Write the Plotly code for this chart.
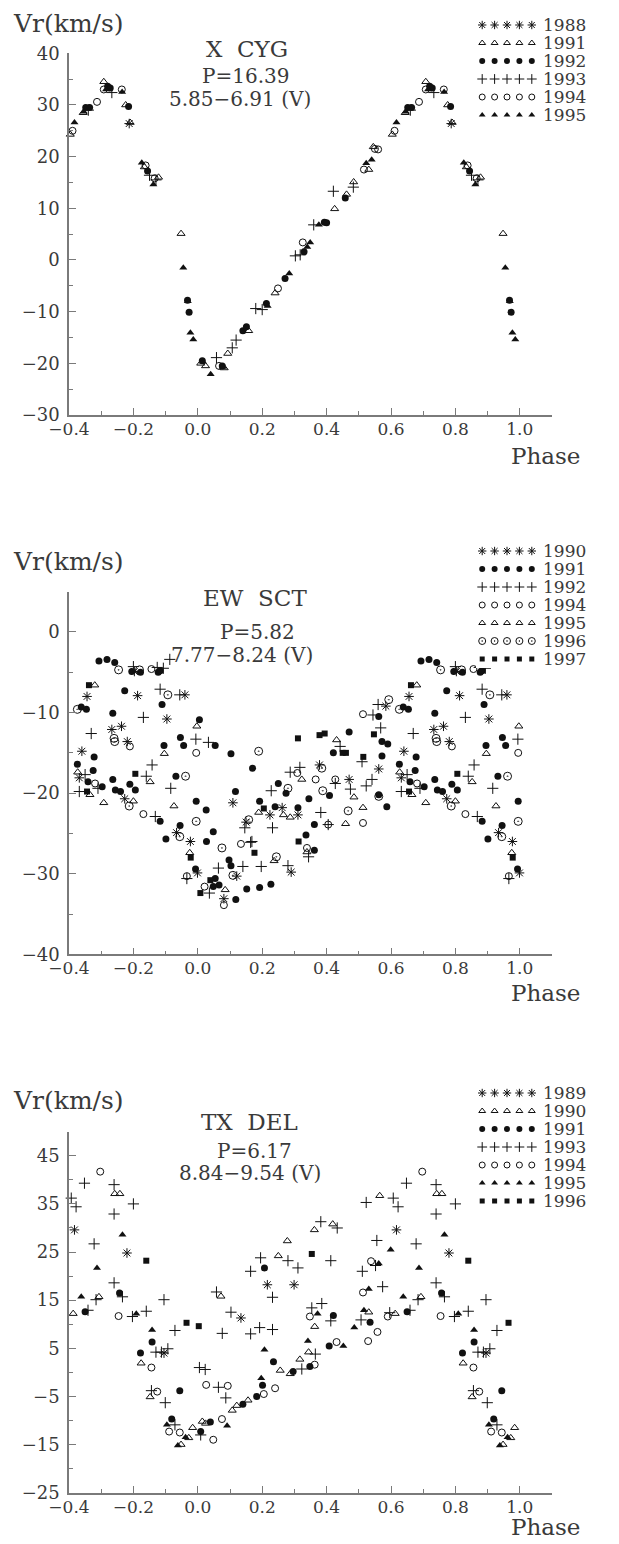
import plotly.graph_objects as go

# ---------------- DATA (phase in [0,1), radial velocity km/s) ----------------
# X CYG
XCYG_YEARS = ["1988", "1991", "1992", "1993", "1994", "1995"]
XCYG_1988_PH = [0.787]
XCYG_1988_VR = [26.4]
XCYG_1991_PH = [0.604, 0.644, 0.708, 0.776, 0.790, 0.834, 0.878, 0.948, 0.009, 0.024, 0.082, 0.093,
                0.158, 0.240, 0.425, 0.462, 0.484, 0.531, 0.545]
XCYG_1991_VR = [24.3, 28.5, 34.5, 30.0, 26.6, 18.0, 16.0, 5.1, -20.0, -20.5, -20.9, -18.1,
                -13.7, -6.4, 9.9, 12.7, 15.1, 17.5, 21.9]
XCYG_1992_PH = [0.652, 0.664, 0.720, 0.728, 0.785, 0.844, 0.968, 0.973, 0.014, 0.076, 0.140, 0.151,
                0.213, 0.271, 0.330, 0.393, 0.400, 0.458]
XCYG_1992_VR = [29.5, 29.5, 33.6, 33.3, 29.7, 17.2, -7.8, -10.1, -19.5, -20.5, -13.7, -12.9,
                -8.4, -3.6, 1.6, 7.3, 7.2, 12.0]
XCYG_1993_PH = [0.660, 0.733, 0.850, 0.870, 0.058, 0.107, 0.119, 0.180, 0.200, 0.303, 0.318, 0.360,
                0.421, 0.483]
XCYG_1993_VR = [29.0, 32.4, 16.4, 15.5, -18.9, -17.0, -15.5, -9.4, -9.6, 0.8, 1.0, 6.8, 13.3, 14.1]
XCYG_1994_PH = [0.611, 0.687, 0.708, 0.764, 0.838, 0.866, 0.066, 0.249, 0.326, 0.516, 0.550, 0.560]
XCYG_1994_VR = [25.0, 30.6, 33.0, 33.0, 18.3, 15.8, -20.5, -5.5, 3.4, 17.5, 21.5, 21.4]
XCYG_1995_PH = [0.617, 0.646, 0.715, 0.765, 0.826, 0.862, 0.955, 0.969, 0.977, 0.986, 0.016, 0.040,
                0.078, 0.217, 0.284, 0.340, 0.349, 0.376, 0.523, 0.540]
XCYG_1995_VR = [26.6, 28.7, 33.0, 32.5, 18.8, 14.6, -1.5, -8.0, -14.1, -15.4, -19.7, -22.1,
                -20.7, -8.9, -2.6, 2.5, 3.4, 6.8, 18.7, 19.4]

# EW SCT
EWSCT_YEARS = ["1990", "1991", "1992", "1994", "1995", "1996", "1997"]
EWSCT_1990_PH = [0.656, 0.640, 0.632, 0.733, 0.763, 0.781, 0.813, 0.773, 0.960, 0.904, 0.934, 0.977,
                 0.999, 0.803, 0.081, 0.121, 0.290, 0.109, 0.150, 0.224, 0.262, 0.311, 0.378, 0.470,
                 0.562, 0.584]
EWSCT_1990_VR = [-8.0, -14.8, -18.1, -12.1, -11.7, -13.6, -7.9, -20.7, -7.8, -10.8, -24.9, -26.0,
                 -29.9, -4.9, -33.1, -30.3, -29.8, -21.2, -23.6, -22.7, -21.8, -22.7, -16.5, -18.3,
                 -17.0, -9.2]
EWSCT_1991_PH = [0.638, 0.654, 0.626, 0.678, 0.675, 0.659, 0.703, 0.736, 0.736, 0.744, 0.760, 0.773,
                 0.789, 0.806, 0.883, 0.889, 0.895, 0.932, 0.901, 0.945, 0.946, 0.956, 0.005, 0.995,
                 0.026, 0.027, 0.054, 0.048, 0.103, 0.117, 0.170, 0.192, 0.240, 0.250, 0.274, 0.311,
                 0.345, 0.362, 0.336, 0.409, 0.421, 0.470, 0.562, 0.572, 0.590, 0.572, 0.562, 0.587,
                 0.993, 0.054, 0.048, 0.066, 0.097, 0.103, 0.118, 0.152, 0.192, 0.227, 0.362,
                 0.693, 0.718, 0.742, 0.795, 0.822, 0.877, 0.883]
EWSCT_1991_VR = [-9.3, -9.6, -16.4, -15.5, -17.2, -18.6, -19.2, -10.1, -18.3, -19.6, -19.8, -7.3,
                 -18.9, -19.6, -23.5, -9.0, -14.1, -17.9, -25.7, -24.0, -13.1, -14.1, -10.9, -21.0,
                 -22.1, -26.0, -14.1, -24.8, -15.1, -19.8, -16.9, -21.0, -21.7, -18.8, -20.0, -21.8,
                 -20.7, -23.9, -25.2, -20.3, -15.0, -12.4, -10.5, -13.6, -13.9, -15.4, -20.2, -21.7,
                 -29.4, -30.6, -31.6, -31.4, -28.3, -29.0, -33.2, -31.9, -31.7, -31.3, -27.1,
                 -3.6, -3.4, -3.8, -4.9, -5.0, -5.0, -4.8]
EWSCT_1992_PH = [0.650, 0.632, 0.690, 0.669, 0.831, 0.858, 0.840, 0.868, 0.883, 0.944, 0.916, 0.994,
                 0.033, 0.168, 0.146, 0.232, 0.228, 0.287, 0.317, 0.382, 0.405, 0.427, 0.442, 0.474,
                 0.541, 0.523, 0.510, 0.544, 0.568, 0.560, 0.966, 0.036, 0.064, 0.140, 0.164, 0.197,
                 0.280, 0.344, 0.800, 0.874, 0.893, 0.913]
EWSCT_1992_VR = [-17.7, -19.8, -19.4, -12.6, -10.6, -16.5, -17.9, -22.9, -7.1, -7.8, -19.4, -13.3,
                 -13.7, -26.0, -24.3, -24.3, -19.7, -17.4, -16.8, -22.4, -23.9, -18.8, -14.2, -19.5,
                 -18.3, -19.1, -16.1, -10.3, -11.9, -9.0, -30.6, -32.4, -29.3, -29.1, -26.1, -29.1,
                 -29.0, -27.9, -4.3, -4.4, -4.5, -3.4]
EWSCT_1994_PH = [0.681, 0.789, 0.831, 0.995, 0.134, 0.309, 0.366, 0.427, 0.513, 0.513, 0.966, 0.021,
                 0.081, 0.339, 0.856, 0.405]
EWSCT_1994_VR = [-18.8, -14.2, -22.6, -15.0, -26.3, -17.5, -18.3, -18.3, -23.7, -10.2, -30.3, -31.6,
                 -33.9, -26.8, -4.6, -23.9]
EWSCT_1995_PH = [0.680, 0.627, 0.665, 0.708, 0.800, 0.852, 0.926, 0.896, 0.997, 0.189, 0.266, 0.287,
                 0.323, 0.431, 0.459, 0.485, 0.513, 0.975, 0.085, 0.237, 0.339]
EWSCT_1995_VR = [-6.6, -17.4, -20.2, -21.2, -21.0, -18.6, -21.6, -15.1, -11.7, -22.4, -22.7, -23.0,
                 -18.3, -13.4, -23.8, -20.5, -21.8, -27.4, -32.0, -28.4, -27.3]
EWSCT_1996_PH = [0.626, 0.740, 0.742, 0.787, 0.907, 0.962, 0.944, 0.995, 0.075, 0.189, 0.158, 0.280,
                 0.388, 0.385, 0.467, 0.562, 0.593, 0.109, 0.244, 0.754, 0.819]
EWSCT_1996_VR = [-9.6, -13.2, -13.6, -21.6, -7.8, -17.9, -25.4, -23.5, -26.8, -14.8, -23.3, -19.4,
                 -19.7, -16.9, -22.2, -20.4, -8.4, -30.2, -27.9, -4.7, -4.7]
EWSCT_1997_PH = [0.662, 0.656, 0.806, 0.205, 0.311, 0.378, 0.394, 0.450, 0.460, 0.514, 0.547, 0.978,
                 0.008, 0.039, 0.176, 0.313]
EWSCT_1997_VR = [-6.6, -19.8, -17.6, -21.9, -13.2, -12.8, -12.6, -15.0, -15.0, -15.5, -12.7, -28.0,
                 -32.4, -30.8, -27.4, -26.0]

# TX DEL
TXDEL_YEARS = ["1989", "1990", "1991", "1993", "1994", "1995", "1996"]
TXDEL_1989_PH = [0.617, 0.780, 0.134, 0.216, 0.299, 0.895]
TXDEL_1989_VR = [29.6, 24.8, 11.3, 18.2, 18.2, 4.0]
TXDEL_1990_PH = [0.742, 0.758, 0.565, 0.613, 0.693, 0.824, 0.072, 0.250, 0.278, 0.362, 0.419, 0.363,
                 0.344, 0.317, 0.256, 0.287, 0.531, 0.852, 0.107, 0.121, 0.156, 0.948, 0.972, 0.984,
                 0.014, 0.024]
TXDEL_1990_VR = [37.1, 37.1, 36.7, 12.2, 15.7, 1.9, 15.8, 24.2, 27.3, 29.6, 30.8, 9.5,
                 4.2, 2.7, 0.4, -0.3, 12.5, -5.1, -7.9, -6.9, -5.8, -15.0, -13.6, -11.5,
                 -10.2, -10.6]
TXDEL_1991_PH = [0.650, 0.757, 0.858, 0.822, 0.207, 0.421, 0.408, 0.235, 0.348, 0.535, 0.944, 0.140,
                 0.183, 0.201, 0.296, 0.919, 0.039, 0.009]
TXDEL_1991_VR = [12.6, 16.5, 6.3, 4.0, 21.7, 11.8, 5.5, 2.2, 1.2, 10.4, -3.8, -6.6,
                 -5.0, -2.7, 0.2, -9.7, -10.3, -12.3]
TXDEL_1993_PH = [0.607, 0.622, 0.648, 0.740, 0.800, 0.523, 0.740, 0.678, 0.740, 0.766, 0.684, 0.659,
                 0.797, 0.840, 0.895, 0.929, 0.870, 0.887, 0.907, 0.005, 0.023, 0.058, 0.103, 0.076,
                 0.164, 0.195, 0.232, 0.192, 0.232, 0.164, 0.280, 0.311, 0.382, 0.433, 0.413, 0.354,
                 0.385, 0.413, 0.365, 0.323, 0.556, 0.511, 0.552, 0.574, 0.596, 0.507, 0.856, 0.899,
                 0.929, 0.064, 0.087, 0.009]
TXDEL_1993_VR = [36.2, 34.4, 39.3, 39.0, 35.0, 35.3, 32.9, 26.7, 18.6, 15.7, 15.1, 12.9,
                 11.6, 12.7, 15.1, 8.7, 4.2, 4.2, 4.9, 1.0, 0.6, 16.7, 12.5, 8.1,
                 21.0, 23.8, 15.6, 9.3, 8.9, 8.0, 23.2, 21.7, 31.3, 30.0, 23.2, 13.4,
                 14.3, 10.7, 3.8, 0.7, 27.4, 21.0, 22.2, 17.8, 12.4, 10.9, -3.8, -6.3,
                 -10.9, -3.1, -5.3, -13.0]
TXDEL_1994_PH = [0.697, 0.754, 0.856, 0.348, 0.431, 0.363, 0.538, 0.513, 0.590, 0.529, 0.558, 0.874,
                 0.911, 0.944, 0.026, 0.093, 0.205, 0.240, 0.048, 0.075]
TXDEL_1994_VR = [41.7, 11.7, 1.0, 11.6, 6.3, 1.6, 23.1, 16.6, 11.6, 6.5, 8.4, -4.0,
                 -12.3, -12.5, -2.6, -2.8, -4.5, -3.3, -14.0, -9.7]
TXDEL_1995_PH = [0.766, 0.687, 0.638, 0.809, 0.858, 0.207, 0.342, 0.372, 0.452, 0.599, 0.562, 0.531,
                 0.516, 0.486, 0.197, 0.904, 0.962, 0.938, 0.091]
TXDEL_1995_VR = [28.6, 21.7, 15.7, 12.2, 8.8, 4.7, 6.5, 12.2, 5.5, 25.5, 22.6, 17.3,
                 12.9, 9.3, -1.2, -10.9, -13.5, -15.2, -11.1]
TXDEL_1996_PH = [0.840, 0.965, 0.003, 0.354]
TXDEL_1996_VR = [23.2, 10.3, 9.6, 24.6]

# ---------------- STYLE ----------------
INK = "#111111"
AX = "#7a7a7a"
TXT = "#3a3a3a"
FONT = "DejaVu Serif"
W, H = 619, 1544

SYM = {
    "star": dict(symbol="asterisk-open", size=8, line=dict(width=1, color=INK), color=INK),
    "tri_open": dict(symbol="triangle-up-open", size=7, line=dict(width=1, color=INK), color=INK),
    "dot": dict(symbol="circle", size=7, line=dict(width=0), color=INK),
    "plus": dict(symbol="cross-thin-open", size=8, line=dict(width=1, color=INK), color=INK),
    "circ_open": dict(symbol="circle-open", size=7, line=dict(width=1, color=INK), color=INK),
    "tri": dict(symbol="triangle-up", size=7, line=dict(width=0), color=INK),
    "dotcirc": dict(symbol="circle-open-dot", size=8, line=dict(width=1, color=INK), color=INK),
    "square": dict(symbol="square", size=6, line=dict(width=0), color=INK),
}


def fold(ph, vr):
    """Phase-folded display: points with phase >= 0.6 are repeated at phase-1."""
    xs, ys = list(ph), list(vr)
    for p, v in zip(ph, vr):
        if p >= 0.6:
            xs.append(p - 1.0)
            ys.append(v)
    return xs, ys


panels = [
    dict(years=XCYG_YEARS,
         series=[(XCYG_1988_PH, XCYG_1988_VR, "star"), (XCYG_1991_PH, XCYG_1991_VR, "tri_open"),
                 (XCYG_1992_PH, XCYG_1992_VR, "dot"), (XCYG_1993_PH, XCYG_1993_VR, "plus"),
                 (XCYG_1994_PH, XCYG_1994_VR, "circ_open"), (XCYG_1995_PH, XCYG_1995_VR, "tri")],
         yr=[-30, 40], tick0=-30, top=53.3, bot=415.0, leg_top=25,
         title=["X  CYG", "P=16.39", "5.85\u22126.91 (V)"], ty=[49, 76, 99], tx=[247, 245, 240],
         vr_y=23, ph_y=456),
    dict(years=EWSCT_YEARS,
         series=[(EWSCT_1990_PH, EWSCT_1990_VR, "star"), (EWSCT_1991_PH, EWSCT_1991_VR, "dot"),
                 (EWSCT_1992_PH, EWSCT_1992_VR, "plus"), (EWSCT_1994_PH, EWSCT_1994_VR, "circ_open"),
                 (EWSCT_1995_PH, EWSCT_1995_VR, "tri_open"), (EWSCT_1996_PH, EWSCT_1996_VR, "dotcirc"),
                 (EWSCT_1997_PH, EWSCT_1997_VR, "square")],
         yr=[-40, 5], tick0=0, top=591.7, bot=954.3, leg_top=551,
         title=["EW  SCT", "P=5.82", "7.77\u22128.24 (V)"], ty=[598, 632, 655], tx=[255, 257, 242],
         vr_y=562, ph_y=993),
    dict(years=TXDEL_YEARS,
         series=[(TXDEL_1989_PH, TXDEL_1989_VR, "star"), (TXDEL_1990_PH, TXDEL_1990_VR, "tri_open"),
                 (TXDEL_1991_PH, TXDEL_1991_VR, "dot"), (TXDEL_1993_PH, TXDEL_1993_VR, "plus"),
                 (TXDEL_1994_PH, TXDEL_1994_VR, "circ_open"), (TXDEL_1995_PH, TXDEL_1995_VR, "tri"),
                 (TXDEL_1996_PH, TXDEL_1996_VR, "square")],
         yr=[-25, 50], tick0=-25, top=1131.7, bot=1492.7, leg_top=1093,
         title=["TX  DEL", "P=6.17", "8.84\u22129.54 (V)"], ty=[1122, 1151, 1173], tx=[250, 254, 250],
         vr_y=1100, ph_y=1527),
]

X0, X1 = 69.0, 552.0
LEG_X0, LEG_X1 = 476.0, 538.0
ROW = 18.0

fig = go.Figure()
layout = dict(width=W, height=H, margin=dict(l=0, r=0, t=0, b=0, pad=0),
              paper_bgcolor="white", plot_bgcolor="white", showlegend=False,
              font=dict(family=FONT, color=TXT))
annotations = []


def py(v):
    return 1.0 - v / H


for i, P in enumerate(panels):
    n = i + 1
    xa, ya = ("x" if n == 1 else f"x{n}"), ("y" if n == 1 else f"y{n}")
    ln = n + 3
    lxa, lya = f"x{ln}", f"y{ln}"

    for ph, vr, sym in P["series"]:
        xs, ys = fold(ph, vr)
        fig.add_trace(go.Scatter(x=xs, y=ys, mode="markers", marker=SYM[sym],
                                 xaxis=xa, yaxis=ya, cliponaxis=False, hoverinfo="skip"))
    # legend block: five symbols per year
    for (ph, vr, sym), year in zip(P["series"], P["years"]):
        m = dict(SYM[sym])
        m["size"] = max(5, m["size"] - 1)
        fig.add_trace(go.Scatter(x=[1, 2, 3, 4, 5], y=[year] * 5, mode="markers", marker=m,
                                 xaxis=lxa, yaxis=lya, hoverinfo="skip"))

    axis_common = dict(showgrid=False, zeroline=False, showline=True, linecolor=AX, linewidth=1.5,
                       ticks="inside", tickcolor=AX, tickwidth=1.3, ticklen=7, mirror=False,
                       automargin=False)
    layout["xaxis" if n == 1 else f"xaxis{n}"] = dict(
        axis_common, domain=[X0 / W, X1 / W], range=[-0.4, 1.1], tick0=-0.4, dtick=0.2,
        tickformat=".1f", anchor=ya, ticklabelstandoff=-2,
        tickfont=dict(family=FONT, size=17, color=TXT),
        minor=dict(ticks="inside", ticklen=4, tickcolor=AX, tickwidth=1.3, dtick=0.1, tick0=0,
                   showgrid=False))
    layout["yaxis" if n == 1 else f"yaxis{n}"] = dict(
        axis_common, domain=[py(P["bot"]), py(P["top"])], range=P["yr"], tick0=P["tick0"], dtick=10,
        anchor=xa, ticklabelstandoff=4,
        tickfont=dict(family=FONT, size=18, color=TXT),
        minor=dict(ticks="inside", ticklen=4, tickcolor=AX, tickwidth=1.3, dtick=5, tick0=0,
                   showgrid=False))

    nrow = len(P["years"])
    ltop = P["leg_top"] - ROW / 2
    lbot = ltop + nrow * ROW
    layout[f"xaxis{ln}"] = dict(domain=[LEG_X0 / W, LEG_X1 / W], range=[0.5, 5.5], visible=False,
                                anchor=lya, fixedrange=True)
    layout[f"yaxis{ln}"] = dict(domain=[py(lbot), py(ltop)], type="category",
                                categoryorder="array", categoryarray=P["years"],
                                tickmode="array", tickvals=P["years"], ticktext=P["years"],
                                range=[nrow - 0.5, -0.5], side="right", anchor=lxa,
                                showline=False, showgrid=False, zeroline=False, ticks="",
                                ticklabelstandoff=4, automargin=False,
                                tickfont=dict(family=FONT, size=17, color=TXT))

    annotations.append(dict(text="Vr(km/s)", x=68 / W, y=py(P["vr_y"]), xref="paper", yref="paper",
                            showarrow=False, xanchor="center", yanchor="middle",
                            font=dict(family=FONT, size=25, color=TXT)))
    annotations.append(dict(text="Phase", x=545 / W, y=py(P["ph_y"]), xref="paper", yref="paper",
                            showarrow=False, xanchor="center", yanchor="middle",
                            font=dict(family=FONT, size=23, color=TXT)))
    for k, (t, yy, xx) in enumerate(zip(P["title"], P["ty"], P["tx"])):
        annotations.append(dict(text=t, x=xx / W, y=py(yy), xref="paper", yref="paper",
                                showarrow=False, xanchor="center", yanchor="middle",
                                font=dict(family=FONT, size=23 if k == 0 else 20, color=TXT)))

layout["annotations"] = annotations
fig.update_layout(**layout)
fig.write_html("out.html")
